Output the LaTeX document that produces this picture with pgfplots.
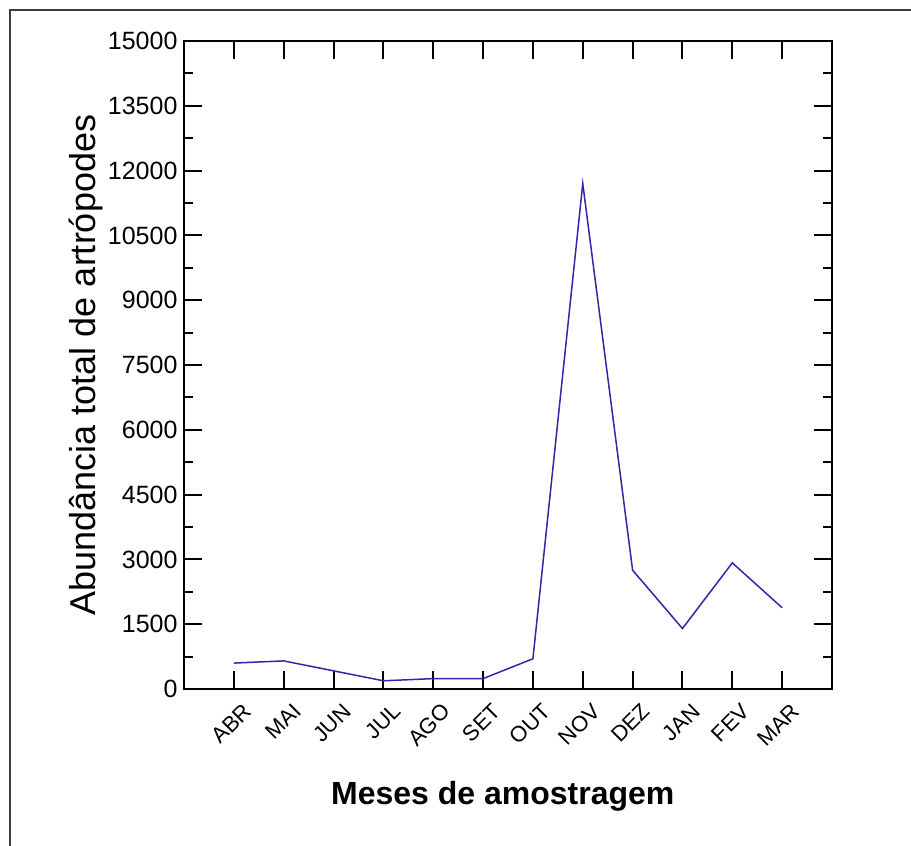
\documentclass[border=0pt]{standalone}
\usepackage{pgfplots}
\pgfplotsset{compat=1.18}
\usepackage{fontspec}
\setmainfont{Liberation Sans}
\definecolor{lineblue}{RGB}{55,35,170}
\definecolor{framegray}{RGB}{60,60,60}
\begin{document}
\begin{tikzpicture}
\useasboundingbox (0pt,0pt) rectangle (911pt,846pt);
\draw[line width=2pt, framegray] (10pt,-2pt) -- (10pt,836pt) -- (913pt,836pt);
\begin{axis}[
  at={(184pt,157pt)}, anchor=south west,
  scale only axis, width=648pt, height=648pt,
  xmin=-1, xmax=12, ymin=0, ymax=15000,
  xtick={0,1,2,3,4,5,6,7,8,9,10,11},
  xticklabels={ABR,MAI,JUN,JUL,AGO,SET,OUT,NOV,DEZ,JAN,FEV,MAR},
  ytick={0,1500,3000,4500,6000,7500,9000,10500,12000,13500,15000},
  minor y tick num=1,
  scaled y ticks=false,
  tick align=inside,
  major tick length=18pt, minor tick length=9pt,
  axis line style={line width=2pt, black},
  every tick/.style={line width=2pt, black},
  yticklabel style={/pgf/number format/.cd, fixed, set thousands separator={}, assume math mode=true, /tikz/.cd,
     font=\fontsize{25}{25}\selectfont, xshift=-3pt},
  xticklabel style={xshift=16pt, yshift=-16pt, rotate=45, anchor=east, font=\fontsize{22}{22}\selectfont},
  every axis y label/.style={at={(axis description cs:-0.151,0.5)}, rotate=90, anchor=center, font=\fontsize{36}{36}\selectfont},
  every axis x label/.style={at={(axis description cs:0.492,-0.166)}, anchor=center, font=\fontsize{32}{32}\selectfont\bfseries},
  ylabel={Abundância total de artrópodes},
  xlabel={Meses de amostragem},
]
\addplot[color=lineblue, line width=1.5pt, mark=none] coordinates {
 (0,600) (1,650) (2,420) (3,190) (4,240) (5,240) (6,700) (7,11700) (8,2750) (9,1400) (10,2920) (11,1880)};
\end{axis}
\end{tikzpicture}
\end{document}
